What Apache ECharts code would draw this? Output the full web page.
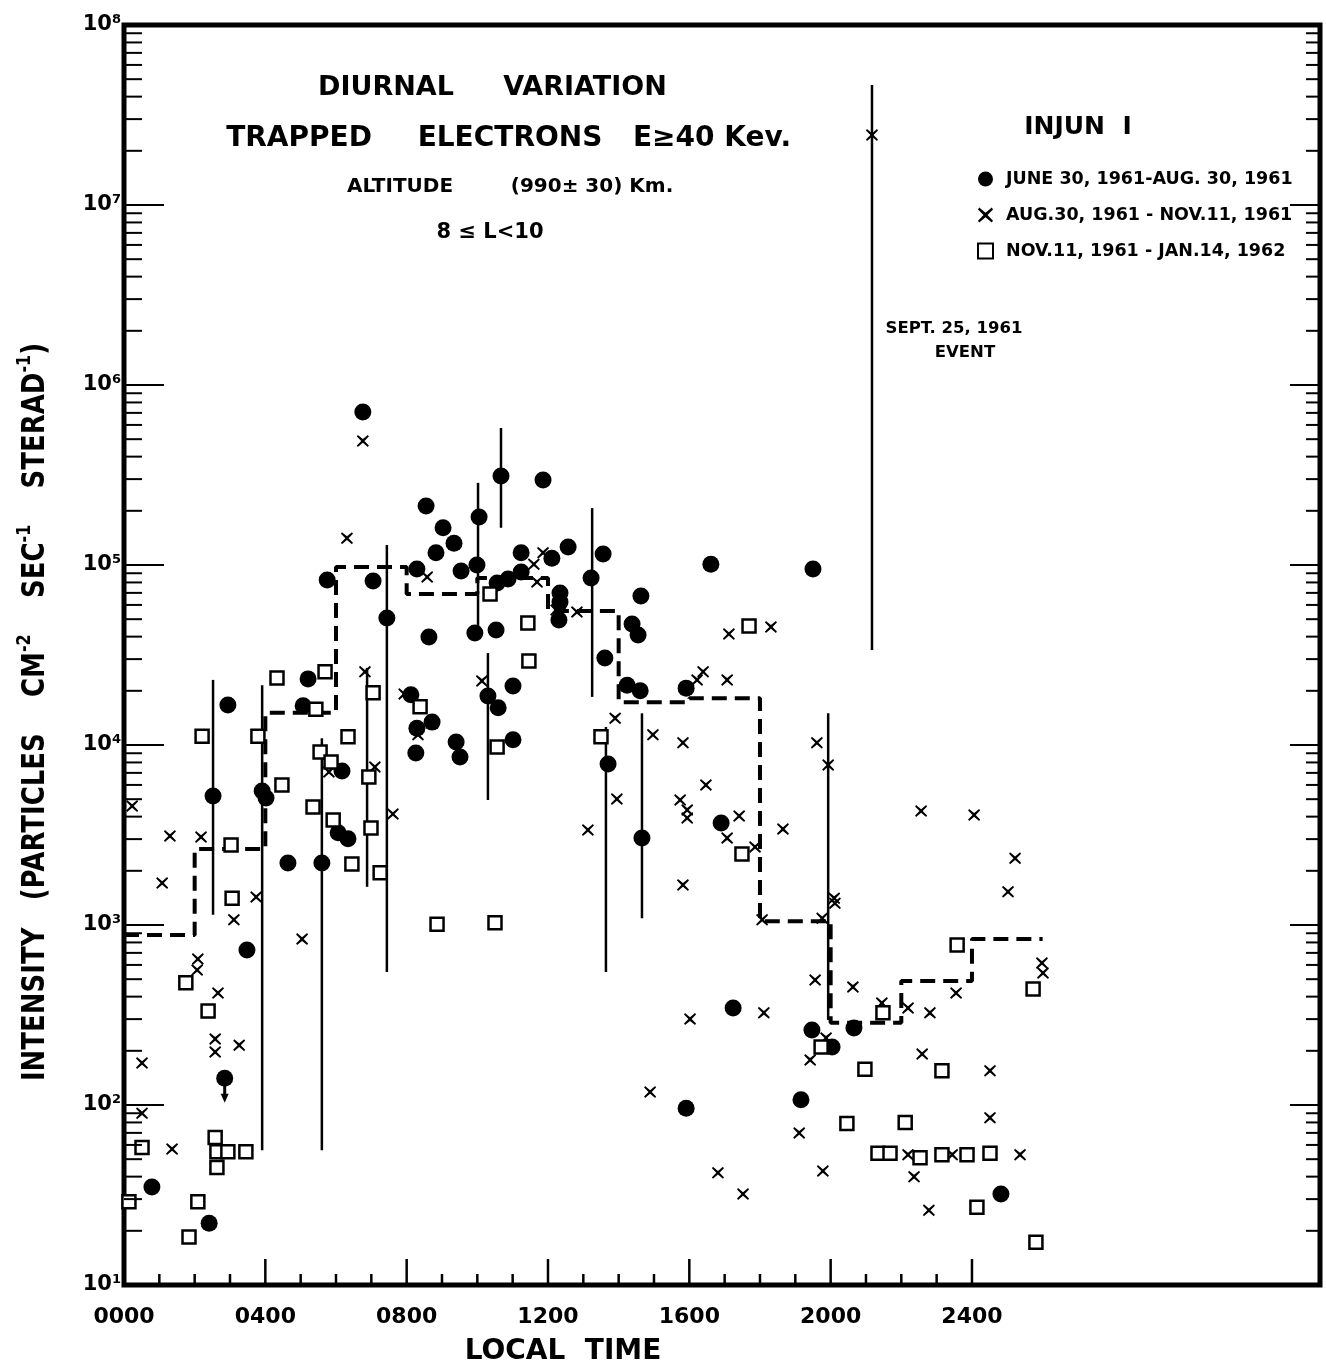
<!DOCTYPE html>
<html><head><meta charset="utf-8">
<script src="https://cdn.jsdelivr.net/npm/echarts@6/dist/echarts.min.js"></script>
<style>html,body{margin:0;padding:0;background:#fff}#c{width:1326px;height:1370px}</style>
</head><body><div id="c"></div>
<script>
// ---------------- data ----------------
const X_MAX = 33.85;                       // right edge of the frame (hours)
const xTickLabels = ['0000','0400','0800','1200','1600','2000','2400'];
const yDecades = [1,2,3,4,5,6,7,8];        // 10^1 .. 10^8
const seriesNames = ['JUNE 30, 1961-AUG. 30, 1961','AUG.30, 1961 - NOV.11, 1961','NOV.11, 1961 - JAN.14, 1962'];

// ● June 30 1961 - Aug 30 1961  [local time (h), intensity]
const junAug = [
 [0.79,35],[2.41,22],[2.85,141],[3.48,727],[2.52,5210],[2.94,16700],[3.91,5550],[4.02,5080],
 [4.64,2210],[5.21,23300],[5.07,16500],[5.60,2210],[5.75,82600],[6.17,7180],[6.06,3250],[6.34,3010],
 [7.05,81500],[7.44,50800],[6.76,708000],[8.29,95000],[8.63,39800],[8.55,213000],[9.03,161000],
 [9.34,132000],[8.83,117000],[9.54,92700],[9.99,100000],[10.05,185000],[10.67,312000],[11.86,297000],
 [11.24,117000],[11.24,91500],[10.87,83600],[10.56,79400],[12.57,126000],[12.11,109000],[13.56,115000],
 [12.34,69800],[12.34,62200],[12.31,49500],[13.22,84700],[9.93,41900],[10.53,43600],[13.61,30400],
 [14.63,67300],[14.38,47000],[14.55,40800],[14.24,21500],[14.61,20000],[10.30,18700],[11.01,21300],
 [10.59,16100],[11.01,10700],[8.12,19000],[8.72,13400],[8.29,12400],[8.26,9030],[9.40,10400],
 [9.51,8580],[13.70,7840],[14.66,3040],[16.61,101000],[19.50,95000],[15.91,20700],[16.90,3690],
 [17.24,346],[19.47,261],[20.66,268],[20.04,210],[15.91,96],[19.16,107],[24.82,32]
];
// × Aug 30 1961 - Nov 11 1961
const augNov = [
 [0.23,4580],[0.51,171],[0.51,90],[1.36,57],[1.30,3120],[1.08,1710],[2.18,3080],[2.09,647],[2.07,562],
 [2.66,419],[2.58,233],[2.58,197],[3.26,215],[3.11,1070],[3.74,1430],[5.04,835],[6.31,141000],
 [6.76,489000],[6.82,25500],[5.80,7080],[7.10,7550],[7.61,4140],[7.93,19200],[8.32,11400],[8.58,85800],
 [10.13,22700],[11.60,101000],[11.86,117000],[11.69,80500],[12.23,56200],[12.82,54800],[13.90,14100],
 [13.95,5010],[13.13,3370],[14.97,11400],[15.82,10300],[16.22,23000],[16.39,25500],[17.07,23000],
 [17.12,41400],[18.31,45300],[15.74,4950],[15.94,4360],[15.94,3930],[16.47,6000],[17.41,4030],
 [17.07,3040],[17.86,2710],[18.65,3410],[15.82,1670],[14.89,118],[16.02,300],[18.11,325],[18.06,1070],
 [16.81,42],[17.52,32],[19.61,10300],[19.93,7740],[20.12,1320],[20.10,1410],[19.76,1090],[19.56,495],
 [20.63,453],[19.87,236],[19.42,178],[19.11,70],[19.78,43],[21.45,369],[22.19,346],[22.81,325],
 [23.55,419],[22.59,192],[24.51,155],[24.51,85],[25.36,53],[22.19,53],[23.44,53],[22.36,40],[22.78,26],
 [22.56,4300],[24.06,4090],[25.22,2350],[25.02,1530],[25.98,615],[26.01,541],[21.17,24500000]
];
// □ Nov 11 1961 - Jan 14 1962
const novJan = [
 [0.14,29],[0.51,58],[1.75,477],[1.84,18.5],[2.09,29],[2.38,333],[2.58,66],[2.63,55],[2.63,45],[2.94,55],
 [3.45,55],[2.21,11200],[3.03,2780],[3.06,1410],[3.79,11200],[4.33,23600],[4.47,6000],[5.35,4530],
 [5.43,15800],[5.55,9150],[5.69,25500],[5.86,8050],[5.92,3830],[6.34,11100],[6.45,2180],[6.93,6640],
 [6.99,3460],[7.05,19500],[7.25,1950],[8.38,16300],[8.86,1010],[10.36,69000],[10.50,1030],[10.56,9750],
 [11.43,47600],[11.46,29300],[13.50,11100],[17.49,2480],[17.69,45800],[19.73,210],[20.46,79],[20.97,158],
 [21.34,54],[21.68,54],[21.48,325],[22.11,80],[22.53,51],[23.15,53],[23.15,155],[23.58,774],[23.86,53],
 [24.51,54],[24.14,27],[25.73,441],[25.81,17.3]
];
// vertical range bars [local time, low, high]
const errorBars = [
 [2.52,1140,23000],[3.91,56,21500],[5.60,56,10900],[6.88,1630,26800],[7.44,548,129000],
 [10.02,42500,286000],[10.67,161000,577000],[10.30,4950,32400],[13.25,18500,207000],
 [13.64,548,12600],[14.66,1090,15000],[19.93,297,15000],[21.17,33700,46400000]
];
// upper-limit arrow [local time, from, to]
const upperLimits = [[2.85,141,103]];
// dashed average (bin start, value)
const stepMedian = [
 [0,880],[2,2640],[4,15100],[6,97500],[8,69000],[10,84700],[12,55500],[14,17300],[16,18200],
 [18,1050],[20,286],[22,489],[24,835],[26,835]
];

// ---------------- helpers ----------------
const FONT = '"DejaVu Sans", "Liberation Sans", sans-serif';
const yTickData = [];
yDecades.forEach(e => yTickData.push([0, Math.pow(10, e), 1]));
yDecades.slice(0, -1).forEach(e => { for (let m = 2; m <= 9; m++) yTickData.push([0, m * Math.pow(10, e), 0]); });
const xTickData = [];
for (let h = 0; h <= 24; h++) xTickData.push([h, 10, h % 4 === 0 ? 1 : 0]);

const crossPath = 'path://M1,0 L6,4.2 L11,0 L12,1.5 L7.6,6 L12,10.5 L11,12 L6,7.8 L1,12 L0,10.5 L4.4,6 L0,1.5 Z';

function renderYTicks(params, api) {
  const v = api.value(1), major = api.value(2) === 1;
  const L = api.coord([0, v]), R = api.coord([X_MAX, v]);
  const lenL = major ? 40 : 18, lenR = major ? 30 : 14;
  return { type: 'group', children: [
    { type: 'line', shape: { x1: L[0], y1: L[1], x2: L[0] + lenL, y2: L[1] }, style: { stroke: '#000', lineWidth: 2 } },
    { type: 'line', shape: { x1: R[0] - lenR, y1: R[1], x2: R[0], y2: R[1] }, style: { stroke: '#000', lineWidth: 2 } }
  ]};
}
function renderXTicks(params, api) {
  const p = api.coord([api.value(0), api.value(1)]);
  const len = api.value(2) === 1 ? 26 : 11;
  return { type: 'line', shape: { x1: p[0], y1: p[1], x2: p[0], y2: p[1] - len }, style: { stroke: '#000', lineWidth: 2.5 } };
}
function renderErr(params, api) {
  const a = api.coord([api.value(0), api.value(1)]);
  const b = api.coord([api.value(0), api.value(2)]);
  return { type: 'line', shape: { x1: a[0], y1: a[1], x2: b[0], y2: b[1] }, style: { stroke: '#000', lineWidth: 2.5 } };
}
function renderArrow(params, api) {
  const a = api.coord([api.value(0), api.value(1)]);
  const b = api.coord([api.value(0), api.value(2)]);
  return { type: 'group', children: [
    { type: 'line', shape: { x1: a[0], y1: a[1], x2: b[0], y2: b[1] - 6 }, style: { stroke: '#000', lineWidth: 3 } },
    { type: 'polygon', shape: { points: [[b[0] - 4, b[1] - 9], [b[0] + 4, b[1] - 9], [b[0], b[1]]] }, style: { fill: '#000' } }
  ]};
}
function txt(text, x, y, size, extra) {
  return Object.assign({ type: 'text', x: x, y: y, silent: true,
    style: { text: text, font: 'bold ' + size + 'px ' + FONT, fill: '#000', align: 'center', verticalAlign: 'middle' } }, extra || {});
}

const chart = echarts.init(document.getElementById('c'), null, { renderer: 'canvas' });
chart.setOption({
  animation: false,
  backgroundColor: '#fff',
  grid: { left: 124, right: 6, top: 25, bottom: 85, show: true, borderColor: '#000', borderWidth: 5, backgroundColor: 'transparent' },
  xAxis: {
    type: 'value', min: 0, max: X_MAX, interval: 4,
    axisLine: { show: false }, axisTick: { show: false }, splitLine: { show: false },
    axisLabel: {
      margin: 21, fontFamily: FONT, fontWeight: 'bold', fontSize: 22, color: '#000',
      formatter: v => (v <= 24 ? xTickLabels[Math.round(v / 4)] : '')
    }
  },
  yAxis: {
    type: 'log', logBase: 10, min: 10, max: 1e8, splitNumber: 7,
    axisLine: { show: false }, axisTick: { show: false }, splitLine: { show: false },
    axisLabel: {
      margin: 3, color: '#000',
      formatter: v => '{b|10}{s|' + Math.round(Math.log10(v)) + '}',
      rich: {
        b: { fontFamily: FONT, fontWeight: 'bold', fontSize: 21, color: '#000', lineHeight: 24 },
        s: { fontFamily: FONT, fontWeight: 'bold', fontSize: 13, color: '#000', lineHeight: 24, verticalAlign: 'top', padding: [0, 0, 10, 0] }
      }
    }
  },
  legend: {
    orient: 'vertical', left: 972, top: 165, itemWidth: 15, itemHeight: 15, itemGap: 18,
    data: seriesNames, selectedMode: false,
    textStyle: { fontFamily: FONT, fontWeight: 'bold', fontSize: 17.5, color: '#000', padding: [0, 0, 0, 8] }
  },
  series: [
    { type: 'custom', name: 'yticks', data: yTickData, renderItem: renderYTicks, silent: true, encode: { x: 0, y: 1 }, z: 5 },
    { type: 'custom', name: 'xticks', data: xTickData, renderItem: renderXTicks, silent: true, encode: { x: 0, y: 1 }, z: 5 },
    { type: 'custom', name: 'bars', data: errorBars, renderItem: renderErr, silent: true, encode: { x: 0, y: [1, 2] }, z: 2 },
    { type: 'custom', name: 'limits', data: upperLimits, renderItem: renderArrow, silent: true, encode: { x: 0, y: [1, 2] }, z: 2 },
    { type: 'line', name: 'average', data: stepMedian, step: 'end', symbol: 'none', silent: true, z: 3,
      lineStyle: { color: '#000', width: 4, type: [15, 8] } },
    { type: 'scatter', name: seriesNames[0], data: junAug, symbol: 'circle', symbolSize: 17, z: 4,
      itemStyle: { color: '#000', opacity: 1 } },
    { type: 'scatter', name: seriesNames[1], data: augNov, symbol: crossPath, symbolSize: 12, z: 4,
      itemStyle: { color: '#000', opacity: 1 } },
    { type: 'scatter', name: seriesNames[2], data: novJan, symbol: 'rect', symbolSize: 13, z: 4,
      itemStyle: { color: '#fff', borderColor: '#000', borderWidth: 2.5, opacity: 1 } }
  ],
  graphic: [
    txt('DIURNAL', 386, 88, 27),
    txt('VARIATION', 585, 88, 27),
    txt('TRAPPED', 299, 139, 28),
    txt('ELECTRONS', 510, 139, 28),
    txt('E\u226540 Kev.', 712, 139, 28),
    txt('ALTITUDE', 400, 187, 20),
    txt('(990\u00b1 30) Km.', 592, 187, 20),
    txt('8 \u2264 L<10', 490, 233, 21),
    txt('INJUN  I', 1078, 127, 25),
    txt('SEPT. 25, 1961', 954, 329, 16.5),
    txt('EVENT', 965, 353, 16.5),
    txt('LOCAL  TIME', 563, 1352, 28),
    { type: 'text', x: 36, y: 712, rotation: Math.PI / 2, scaleY: 1.2, silent: true,
      style: {
        text: '{t|INTENSITY   (PARTICLES    CM}{s|-2}{t|    SEC}{s|-1}{t|    STERAD}{s|-1}{t|)}',
        align: 'center', verticalAlign: 'middle',
        rich: {
          t: { font: 'bold 26px ' + FONT, fill: '#000', lineHeight: 34 },
          s: { font: 'bold 16px ' + FONT, fill: '#000', lineHeight: 34, verticalAlign: 'top', padding: [0, 0, 14, 0] }
        }
      } }
  ]
});
</script>
</body></html>
